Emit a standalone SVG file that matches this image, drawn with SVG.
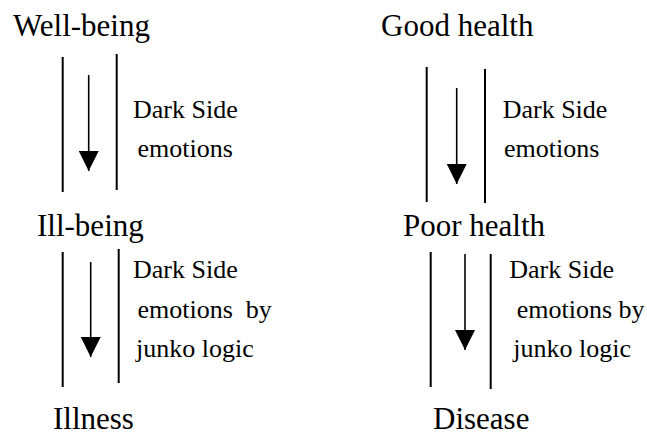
<svg xmlns="http://www.w3.org/2000/svg" width="647" height="436" viewBox="0 0 647 436">
<style>
text{font-family:"Liberation Serif","Times New Roman",serif;fill:#000}
.node{font-size:31px}
.lbl{font-size:26px;white-space:pre}
.wall{stroke:#000;stroke-width:2;fill:none}
.arr{stroke:#000;stroke-width:1.6;fill:none;marker-end:url(#head)}
</style>
<defs>
<marker id="head" markerUnits="userSpaceOnUse" markerWidth="20" markerHeight="20" refX="20" refY="10" orient="auto" viewBox="0 0 20 20">
<path d="M0,0 L20,10 L0,20 z" fill="#000"/>
</marker>
</defs>
<rect width="647" height="436" fill="#fff"/>
<g id="n-wellbeing"><text class="node" x="13" y="36">Well-being</text></g>
<g id="n-illbeing"><text class="node" x="37" y="236">Ill-being</text></g>
<g id="n-illness"><text class="node" x="53" y="429.3">Illness</text></g>
<g id="n-goodhealth"><text class="node" x="381" y="36">Good health</text></g>
<g id="n-poorhealth"><text class="node" x="403" y="236">Poor health</text></g>
<g id="n-disease"><text class="node" x="433" y="429.3">Disease</text></g>
<g id="connectors">
<g id="c1">
<line class="wall" x1="62.7" y1="57" x2="62.7" y2="192"/>
<line class="wall" x1="116.7" y1="54" x2="116.7" y2="190"/>
<line class="arr" x1="88.7" y1="75" x2="88.7" y2="171"/>
<text class="lbl" x="133" y="118">Dark Side</text>
<text class="lbl" x="137.5" y="156.5">emotions</text>
</g>
<g id="c2">
<line class="wall" x1="62.7" y1="252" x2="62.7" y2="387"/>
<line class="wall" x1="118.7" y1="249" x2="118.7" y2="383"/>
<line class="arr" x1="90.7" y1="262" x2="90.7" y2="357"/>
<text class="lbl" x="133" y="278">Dark Side</text>
<text class="lbl" x="137.5" y="318">emotions  by</text>
<text class="lbl" x="136" y="357">junko logic</text>
</g>
<g id="c3">
<line class="wall" x1="426.7" y1="67" x2="426.7" y2="202"/>
<line class="wall" x1="485" y1="69" x2="485" y2="203"/>
<line class="arr" x1="456.7" y1="88" x2="456.7" y2="184"/>
<text class="lbl" x="502.7" y="118">Dark Side</text>
<text class="lbl" x="504" y="156.5">emotions</text>
</g>
<g id="c4">
<line class="wall" x1="430.7" y1="252" x2="430.7" y2="387"/>
<line class="wall" x1="490.7" y1="254" x2="490.7" y2="389"/>
<line class="arr" x1="465" y1="254" x2="465" y2="350"/>
<text class="lbl" x="509.3" y="278">Dark Side</text>
<text class="lbl" x="516.7" y="318">emotions by</text>
<text class="lbl" x="513.3" y="357">junko logic</text>
</g>
</g>
</svg>
